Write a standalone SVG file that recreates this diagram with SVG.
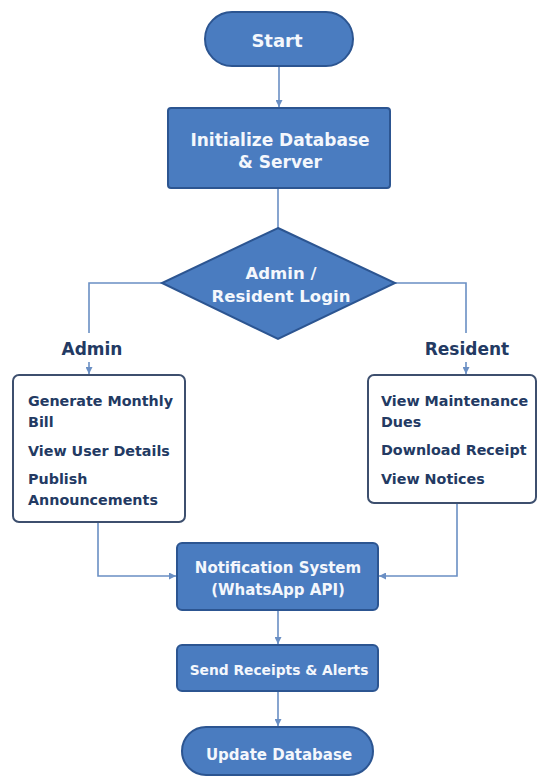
<svg xmlns="http://www.w3.org/2000/svg" width="541" height="776" viewBox="0 0 541 776">
<defs>
<style>
.n{fill:#4a7cc0;stroke:#2c5591;stroke-width:2}
.w{fill:#f4f7fc;font-family:"DejaVu Sans","Liberation Sans",sans-serif;font-weight:bold;text-anchor:middle}
.d{fill:#233a63;font-family:"DejaVu Sans","Liberation Sans",sans-serif;font-weight:bold}
.box{fill:#ffffff;stroke:#3d4f6e;stroke-width:2}
.c{fill:none;stroke:#6a8fc4;stroke-width:1.6}
</style>
<marker id="ah" viewBox="0 0 10 10" refX="10" refY="5" markerWidth="7" markerHeight="7" orient="auto" markerUnits="userSpaceOnUse">
<path d="M0,0 L10,5 L0,10 z" fill="#6a8fc4"/>
</marker>
</defs>
<rect width="541" height="776" fill="#ffffff"/>
<g id="connectors">
<path class="c" d="M279,66 V107" marker-end="url(#ah)"/>
<path class="c" d="M278,188 V228"/>
<path class="c" d="M162,283 H89 V333"/>
<path class="c" d="M89,362 V374" marker-end="url(#ah)"/>
<path class="c" d="M395,283 H466 V333"/>
<path class="c" d="M466,362 V374" marker-end="url(#ah)"/>
<path class="c" d="M98,523 V576 H176" marker-end="url(#ah)"/>
<path class="c" d="M457,504 V576 H379" marker-end="url(#ah)"/>
<path class="c" d="M278,611 V644" marker-end="url(#ah)"/>
<path class="c" d="M278,692 V726" marker-end="url(#ah)"/>
</g>
<g id="start">
<rect class="n" x="205" y="12" width="148" height="54" rx="27"/>
<text class="w" x="277" y="47" font-size="18">Start</text>
</g>
<g id="init">
<rect class="n" x="168" y="108" width="222" height="80" rx="3"/>
<text class="w" x="280" y="146" font-size="17">Initialize Database</text>
<text class="w" x="280" y="168" font-size="17">&amp; Server</text>
</g>
<g id="login">
<polygon class="n" points="278,228 395,283 278,339 162,283"/>
<text class="w" x="281" y="279" font-size="16.5">Admin /</text>
<text class="w" x="281" y="302" font-size="16.5">Resident Login</text>
</g>
<g id="admin-label">
<text class="d" x="92" y="355" font-size="17" text-anchor="middle">Admin</text>
</g>
<g id="resident-label">
<text class="d" x="467" y="355" font-size="17" text-anchor="middle">Resident</text>
</g>
<g id="admin-box">
<rect class="box" x="13" y="375" width="172" height="147" rx="6"/>
<text class="d" x="28" y="406" font-size="14.3">Generate Monthly</text>
<text class="d" x="28" y="427" font-size="14.3">Bill</text>
<text class="d" x="28" y="456" font-size="14.3">View User Details</text>
<text class="d" x="28" y="484" font-size="14.3">Publish</text>
<text class="d" x="28" y="505" font-size="14.3">Announcements</text>
</g>
<g id="resident-box">
<rect class="box" x="368" y="375" width="168" height="128" rx="6"/>
<text class="d" x="381" y="406" font-size="14.3">View Maintenance</text>
<text class="d" x="381" y="427" font-size="14.3">Dues</text>
<text class="d" x="381" y="455" font-size="14.3">Download Receipt</text>
<text class="d" x="381" y="484" font-size="14.3">View Notices</text>
</g>
<g id="notify">
<rect class="n" x="177" y="543" width="201" height="67" rx="5"/>
<text class="w" x="278" y="573" font-size="15">Notification System</text>
<text class="w" x="278" y="595" font-size="15">(WhatsApp API)</text>
</g>
<g id="send">
<rect class="n" x="177" y="645" width="201" height="46" rx="5"/>
<text class="w" x="279" y="675" font-size="13.8">Send Receipts &amp; Alerts</text>
</g>
<g id="update">
<rect class="n" x="182" y="727" width="191" height="48" rx="24"/>
<text class="w" x="279" y="760" font-size="15">Update Database</text>
</g>
</svg>
